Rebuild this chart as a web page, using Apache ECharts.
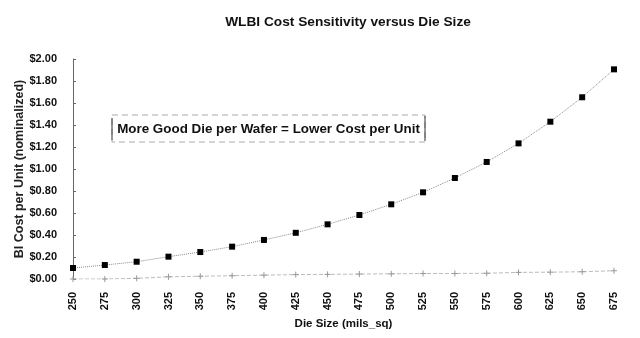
<!DOCTYPE html>
<html><head><meta charset="utf-8">
<script src="https://cdn.jsdelivr.net/npm/echarts@6/dist/echarts.min.js"></script>
<style>html,body{margin:0;padding:0;background:#fff}#c{width:640px;height:338px}</style>
</head><body><div id="c"></div>
<script>
const dieSizes = ['250','275','300','325','350','375','400','425','450','475','500','525','550','575','600','625','650','675'];
const biCost = [0.10,0.127,0.157,0.203,0.245,0.294,0.355,0.42,0.497,0.582,0.679,0.788,0.918,1.064,1.233,1.43,1.652,1.906];
const lowSeries = [0.0,0.0,0.006,0.02,0.025,0.03,0.035,0.04,0.042,0.045,0.047,0.05,0.05,0.052,0.06,0.062,0.066,0.075];
const chart = echarts.init(document.getElementById('c'));
const F = 'Liberation Sans, Arial, sans-serif';
chart.setOption({
  animation:false,
  title:{text:'WLBI Cost Sensitivity versus Die Size',left:343,top:10,textAlign:'center',
    textStyle:{fontFamily:F,fontSize:13.7,fontWeight:'bold',color:'#111'}},
  grid:{left:73,right:26,top:59,bottom:59,outerBoundsMode:'none',containLabel:false},
  xAxis:{type:'category',data:dieSizes,boundaryGap:false,
    name:'Die Size (mils_sq)',nameLocation:'middle',nameGap:30,
    nameTextStyle:{fontFamily:F,fontSize:11.5,fontWeight:'bold',color:'#111'},
    axisLine:{show:false},axisTick:{show:false},
    axisLabel:{rotate:90,fontFamily:F,fontSize:11,fontWeight:'bold',color:'#111',margin:13}},
  yAxis:{type:'value',min:0,max:2,interval:0.2,
    name:'BI Cost per Unit (nominalized)',nameLocation:'middle',nameGap:47,nameMoveOverlap:false,
    nameTextStyle:{fontFamily:F,fontSize:12.5,fontWeight:'bold',color:'#222'},
    axisLine:{show:true,lineStyle:{color:'#666',width:1}},
    axisTick:{show:true,inside:true,length:3,lineStyle:{color:'#666'}},
    splitLine:{show:false},
    axisLabel:{fontFamily:F,fontSize:11,fontWeight:'bold',color:'#111',margin:16,
      formatter:v=>'$'+v.toFixed(2)}},
  series:[
    {type:'line',data:biCost,symbol:'rect',symbolSize:6,
      itemStyle:{color:'#000'},lineStyle:{color:'#888',width:1,type:'dotted'}},
    {type:'line',data:lowSeries,symbol:'path://M0,5L10,5M5,0L5,10',symbolSize:6,
      itemStyle:{color:'#999',borderColor:'#999',borderWidth:1},
      lineStyle:{color:'#bbb',width:1,type:'dashed'}}
  ],
  graphic:[
    {type:'rect',shape:{x:112,y:115,width:313,height:27},
      style:{fill:'#fff',stroke:'#aaa',lineWidth:1,lineDash:[6,4]}},
    {type:'line',shape:{x1:112,y1:118,x2:112,y2:140},style:{stroke:'#333',lineWidth:1}},
    {type:'line',shape:{x1:425,y1:116,x2:425,y2:141},style:{stroke:'#333',lineWidth:1}},
    {type:'text',x:268.5,y:129,style:{text:'More Good Die per Wafer = Lower Cost per Unit',
      fontFamily:F,fontSize:13.4,fontWeight:'bold',fill:'#111',align:'center',verticalAlign:'middle'}}
  ]
});
</script></body></html>
